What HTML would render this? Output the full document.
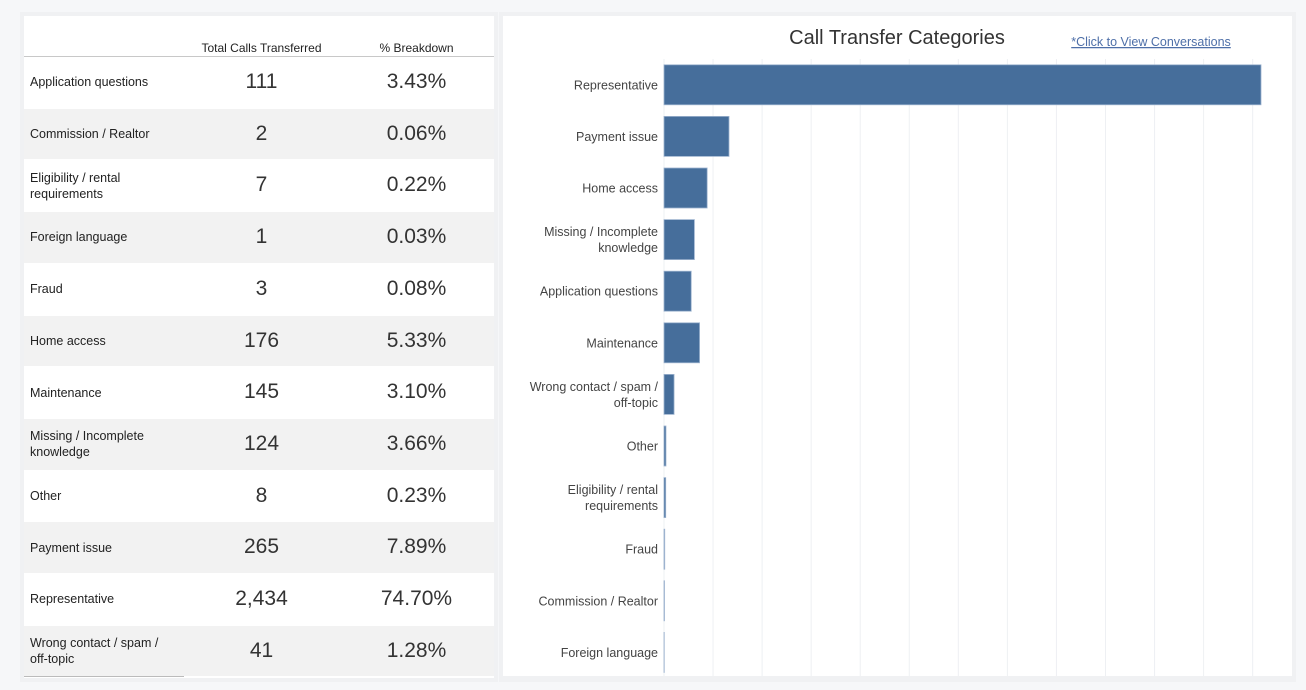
<!DOCTYPE html>
<html><head><meta charset="utf-8"><style>
body{margin:0;width:1306px;height:690px;background:#f6f7f9;font-family:"Liberation Sans",sans-serif;position:relative;overflow:hidden}
.panel{position:absolute;background:#fff}
.lbl{position:absolute;left:6px;font-size:12.5px;color:#222;line-height:16px}
.num{position:absolute;font-size:21px;color:#333;text-align:center}
</style></head><body>
<div class="panel" style="left:20px;top:12px;width:478px;height:670px;background:#f0f1f3"></div>
<div class="panel" style="left:24px;top:16px;width:470px;height:662px">
  <div style="position:absolute;left:160px;width:155px;top:25px;text-align:center;font-size:12px;color:#222">Total Calls Transferred</div>
  <div style="position:absolute;left:315px;width:155px;top:25px;text-align:center;font-size:12px;color:#222">% Breakdown</div>
  <div style="position:absolute;left:0;top:40px;width:470px;height:1px;background:#c8c8c8"></div>
  <div id="rows"></div>
</div>
<div class="panel" style="left:499px;top:12px;width:797px;height:670px;background:#f0f1f3"></div>
<div class="panel" style="left:503px;top:16px;width:789px;height:660px"></div>
<svg id="chart" width="1306" height="690" style="position:absolute;left:0;top:0">
  <text x="897" y="44" text-anchor="middle" font-size="20" fill="#333" font-family="Liberation Sans, sans-serif">Call Transfer Categories</text>
  <text x="1151" y="46" text-anchor="middle" font-size="12.5" fill="#4e6fa8" text-decoration="underline" font-family="Liberation Sans, sans-serif">*Click to View Conversations</text>
</svg>
<script>
const tableCats=["Application questions","Commission / Realtor","Eligibility / rental\nrequirements","Foreign language","Fraud","Home access","Maintenance","Missing / Incomplete\nknowledge","Other","Payment issue","Representative","Wrong contact / spam /\noff-topic"];
const tableCounts=["111","2","7","1","3","176","145","124","8","265","2,434","41"];
const tablePcts=["3.43%","0.06%","0.22%","0.03%","0.08%","5.33%","3.10%","3.66%","0.23%","7.89%","74.70%","1.28%"];
const rows=document.getElementById('rows');
const rh=51.7;
tableCats.forEach((c,i)=>{
  const top=41+i*rh;
  const r=document.createElement('div');
  
  
  r.style.cssText=`position:absolute;left:0;top:${top}px;width:470px;height:${rh-1}px;background:${i%2?'#f2f2f2':'#fff'}`;
  const l=document.createElement('div');
  
  
  l.className='lbl';l.innerHTML=c.replace('\n','<br>');
  const lines=c.split('\n').length;
  l.style.top=((rh-1)/2-lines*8)+'px';
  r.appendChild(l);
  const n=document.createElement('div');
  
  
  n.className='num';n.textContent=tableCounts[i];n.style.cssText+=`left:160px;width:155px;top:13px`;
  r.appendChild(n);
  const p=document.createElement('div');
  
  
  p.className='num';p.textContent=tablePcts[i];p.style.cssText+=`left:315px;width:155px;top:13px`;
  r.appendChild(p);
  rows.appendChild(r);
});
const bl=document.createElement('div');


bl.style.cssText='position:absolute;left:0;top:660px;width:160px;height:1px;background:#bbb';
rows.appendChild(bl);

const chartCats=["Representative","Payment issue","Home access","Missing / Incomplete\nknowledge","Application questions","Maintenance","Wrong contact / spam /\noff-topic","Other","Eligibility / rental\nrequirements","Fraud","Commission / Realtor","Foreign language"];
const chartValues=[2434,265,176,124,111,145,41,8,7,3,2,1];
const NS='http://www.w3.org/2000/svg';
const svg=document.getElementById('chart');
const x0=664, xMaxPx=1261, vMax=2434, yTop=59, band=51.6;
const xs=v=>x0+(v/vMax)*(xMaxPx-x0);
const yc=i=>yTop+band*i+band/2;
for(let t=200;t<=2400;t+=200){
  const g=document.createElementNS(NS,'line');
  
  
  g.setAttribute('x1',xs(t));g.setAttribute('x2',xs(t));g.setAttribute('y1',59);g.setAttribute('y2',676);
  g.setAttribute('stroke','#eef0f3');g.setAttribute('stroke-width','1');
  svg.appendChild(g);
}
const ax=document.createElementNS(NS,'line');


ax.setAttribute('x1',x0);ax.setAttribute('x2',x0);ax.setAttribute('y1',59);ax.setAttribute('y2',676);
ax.setAttribute('stroke','#eef0f3');svg.appendChild(ax);
chartCats.forEach((c,i)=>{
  const y=yc(i);
  const w=Math.max(xs(chartValues[i])-x0,0);
  const r=document.createElementNS(NS,'rect');
  
  
  r.setAttribute('x',x0);r.setAttribute('y',y-20);r.setAttribute('width',w);r.setAttribute('height',40);
  r.setAttribute('fill','#466e9b');r.setAttribute('stroke','#9db3cf');r.setAttribute('stroke-width','0.8');
  svg.appendChild(r);
  const lines=c.split('\n');
  lines.forEach((ln,j)=>{
    const t=document.createElementNS(NS,'text');
    
    
    t.setAttribute('x',658);
    t.setAttribute('y',y+4.5+(j-(lines.length-1)/2)*16);
    t.setAttribute('text-anchor','end');t.setAttribute('font-size','12.5');t.setAttribute('fill','#444');
    t.setAttribute('font-family','Liberation Sans, sans-serif');
    t.textContent=ln;svg.appendChild(t);
  });
});
</script>
</body></html>
